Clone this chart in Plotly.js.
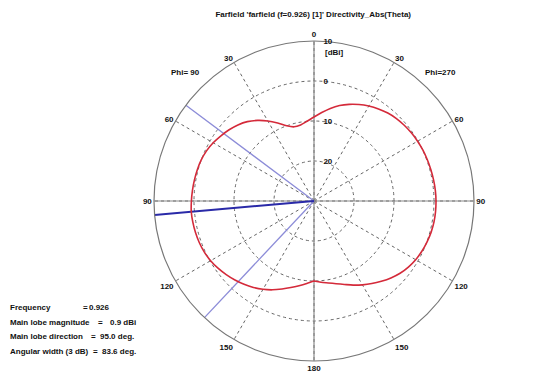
<!DOCTYPE html>
<html><head><meta charset="utf-8">
<script src="https://cdn.plot.ly/plotly-3.0.1.min.js"></script>
<style>html,body{margin:0;padding:0;background:#fff}#c{width:540px;height:379px}</style>
</head><body><div id="c"></div>
<script>
// Theta (deg) samples
const thetaDeg = [0,5,10,15,20,25,30,35,40,45,50,55,60,65,70,75,80,85,90,95,100,105,110,115,120,125,130,135,140,145,150,155,160,165,170,175,180];
// Directivity (dBi) for Phi=90 (left half)
const dirPhi90 = [-9.0,-10.0,-10.7,-10.8,-10.0,-8.5,-6.9,-5.4,-4.1,-3.1,-2.3,-1.6,-0.9,-0.35,0.0,0.2,0.35,0.5,0.65,0.8,0.75,0.65,0.5,0.25,-0.15,-0.7,-1.35,-2.05,-2.8,-3.6,-4.5,-5.5,-6.6,-7.6,-8.5,-9.3,-10.0];
// Directivity (dBi) for Phi=270 (right half)
const dirPhi270 = [-9.0,-7.8,-6.5,-5.3,-4.3,-3.4,-2.6,-1.9,-1.3,-0.85,-0.55,-0.3,-0.1,0.05,0.15,0.25,0.35,0.45,0.5,0.5,0.45,0.3,0.05,-0.25,-0.65,-1.2,-1.9,-2.8,-3.8,-4.8,-5.8,-6.8,-7.8,-8.6,-9.2,-9.6,-10.0];

const angTickVals = [0,30,60,90,120,150,180,210,240,270,300,330];
const angTickText = ['0','30','60','90','120','150','180','150','120','90','60','30'];
const radTickVals = [-20,-10,0,10];
const radTickText = ['20','10','0','10'];

const frequency = 0.926;
const mainLobeMag = 0.9;
const mainLobeDir = 95.0;
const angWidth3dB = 83.6;
const rMin = -30, rMax = 10;

const curveTheta = [], curveR = [];
thetaDeg.forEach((t,i)=>{curveTheta.push(t);curveR.push(dirPhi270[i]);});
for(let i=thetaDeg.length-1;i>=0;i--){curveTheta.push(360-thetaDeg[i]);curveR.push(dirPhi90[i]);}

const axisColor = '#8a8a8a';
const traces = [];
[[0,180],[90,270]].forEach(p=>{
  traces.push({type:'scatterpolar',mode:'lines',r:[rMax,rMin,rMax],theta:[p[0],p[0],p[1]],
    line:{color:axisColor,width:1.2},hoverinfo:'skip',showlegend:false});
});
[mainLobeDir-angWidth3dB/2, mainLobeDir+angWidth3dB/2].forEach(t=>{
  traces.push({type:'scatterpolar',mode:'lines',r:[rMin,rMax],theta:[360-t,360-t],
    line:{color:'#8c8cd8',width:1.3},showlegend:false});
});
traces.push({type:'scatterpolar',mode:'lines',r:[rMin,rMax],theta:[360-mainLobeDir,360-mainLobeDir],
  line:{color:'#2a2aa8',width:2},showlegend:false});
traces.push({type:'scatterpolar',mode:'lines',r:curveR,theta:curveTheta,
  line:{color:'#d42a3a',width:1.6,shape:'spline',smoothing:0.8},showlegend:false});

const bold = {family:'Liberation Sans, Arial',size:8,color:'#111',weight:'bold'};
function ann(x,y,text,xanchor){return {xref:'paper',yref:'paper',x:x/540,y:1-y/379,text:text,showarrow:false,xanchor:xanchor||'left',yanchor:'middle',font:bold};}
const annotations = [
  ann(323,53,'[dBi]'),
  ann(185,73,'Phi= 90','center'),
  ann(440,73,'Phi=270','center'),
  ann(8,307,'Frequency'), ann(81,307,'='), ann(87,307,frequency.toFixed(3)),
  ann(8,322,'Main lobe magnitude'), ann(96,322,'='), ann(108,322,mainLobeMag.toFixed(1)+' dBi'),
  ann(8,336,'Main lobe direction'), ann(89,336,'='), ann(98,336,mainLobeDir.toFixed(1)+' deg.'),
  ann(8,351,'Angular width (3 dB)'), ann(91,351,'='), ann(100,351,angWidth3dB.toFixed(1)+' deg.')
];

const pad = '\u00a0'.repeat(4);
const layout = {
  width:540,height:379,margin:{l:0,r:0,t:0,b:0},
  paper_bgcolor:'#fff',showlegend:false,
  title:{text:"Farfield 'farfield (f=0.926) [1]' Directivity_Abs(Theta)",x:0.58,xanchor:'center',y:1-14/379,yanchor:'middle',font:bold},
  polar:{
    domain:{x:[154/540,474/540],y:[(379-361)/379,(379-41)/379]},
    bgcolor:'#fff',
    angularaxis:{rotation:90,direction:'clockwise',tickmode:'array',tickvals:angTickVals,ticktext:angTickText,
      showline:true,linecolor:'#777',linewidth:1.2,griddash:'dot',gridcolor:'#666',gridwidth:1,ticks:'',tickfont:bold},
    radialaxis:{range:[rMin,rMax],angle:90,tickmode:'array',tickvals:radTickVals,ticktext:radTickText.map(t=>pad+t),
      showline:false,griddash:'dot',gridcolor:'#666',gridwidth:1,ticks:'',tickfont:bold,tickangle:90,side:'clockwise'}
  },
  annotations:annotations
};
Plotly.newPlot('c',traces,layout,{staticPlot:true});
</script></body></html>
